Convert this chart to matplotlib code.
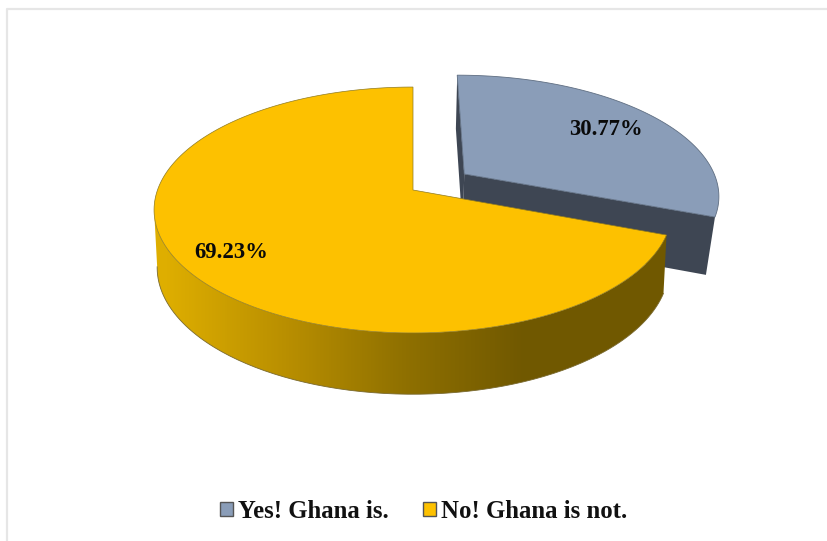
import numpy as np
import matplotlib
matplotlib.use("Agg")
import matplotlib.pyplot as plt
from matplotlib.colors import LinearSegmentedColormap
from matplotlib.patches import Patch, Polygon

categories = ["Yes! Ghana is.", "No! Ghana is not."]
shares = [30.77, 69.23]

BLUE, BLUE_DARK = "#8A9DB8", "#3E4653"
YELLOW = "#FDC100"
WALL_COLORS = ["#DEAE00", "#B98F00", "#8F7000", "#705800"]

# simple perspective projection of the unit disc onto the page, in pixels
CX, CY = 413, 190
RX, RY, TILT = 255.5, 119.7, 0.1626
BASE_Y, BASE_SY = 247, 1.03


def project(u, v, base_sx=None):
    d = 1 + TILT * v
    if base_sx is not None:
        return CX + base_sx * RX * u / d, BASE_Y - BASE_SY * RY * v / d
    return CX + RX * u / d, CY - RY * v / d


def arc(start, stop, du=0.0, dv=0.0, base_sx=None):
    t = np.radians(np.linspace(start, stop, 200))
    x, y = project(np.sin(t) + du, np.cos(t) + dv, base_sx)
    return np.column_stack([x, y])


fig = plt.figure(figsize=(8.28, 5.41), dpi=100)
ax = fig.add_axes([0, 0, 1, 1])

# chart area border, only its top and left sides show
ax.plot([7, 7, 828], [541, 8.5, 8.5], color="#E6E6E6", lw=1.6, zorder=0)

split = shares[0] / sum(shares) * 360
du, dv = 0.205, 0.1366
side_sx, main_sx = 0.97, 0.988

# exploded slice: side faces first, then the top
apex_top = np.array(project(du, dv))[None, :]
apex_low = np.array(project(du, dv, side_sx))[None, :]
top_arc = arc(0, split, du, dv)
low_arc = arc(0, split, du, dv, side_sx)
ax.add_patch(Polygon(np.vstack([top_arc[0], apex_top, apex_low, low_arc[0]]), fc=BLUE_DARK, ec="none"))
ax.add_patch(Polygon(np.vstack([apex_top, top_arc[-1], low_arc[-1], apex_low]), fc=BLUE_DARK, ec="none"))
ax.add_patch(Polygon(np.vstack([apex_top, top_arc]), fc=BLUE, ec="#5F6E82", lw=0.6))

# main slice: shaded rim, then the top
rim_end = 261
wall_patch = Polygon(np.vstack([arc(split, rim_end), arc(split, rim_end, base_sx=main_sx)[::-1]]),
                     fc="none", ec="none")
ax.add_patch(wall_patch)
cmap = LinearSegmentedColormap.from_list("wall", WALL_COLORS)
ramp = np.clip((np.arange(828) - 165) / 360, 0, 1)
img = ax.imshow(ramp[None, :], cmap=cmap, aspect="auto", extent=(0, 828, 541, 0), zorder=1)
img.set_clip_path(wall_patch)

low_edge = arc(split, rim_end, base_sx=main_sx)
ax.plot(low_edge[:, 0], low_edge[:, 1], color="#7A6A30", lw=0.6, zorder=2)
centre = np.array(project(0, 0))[None, :]
ax.add_patch(Polygon(np.vstack([centre, arc(split, 360)]), fc=YELLOW, ec="#8F7A20", lw=0.5, zorder=3))

ax.set_xlim(0, 828)
ax.set_ylim(541, 0)
ax.axis("off")

text_style = dict(family="Liberation Serif", weight="bold", color="#0A0A0A", zorder=4)
ax.text(606, 129.5, f"{shares[0]:.2f}%", ha="center", va="center", fontsize=16.4, **text_style)
ax.text(231, 252.5, f"{shares[1]:.2f}%", ha="center", va="center", fontsize=16.4, **text_style)

handles = [Patch(fc=BLUE, ec="#555555", lw=1), Patch(fc=YELLOW, ec="#555555", lw=1)]
ax.legend(handles, categories, loc="center", bbox_to_anchor=(423.5 / 828, 1 - 511 / 541),
          ncol=2, frameon=False, handlelength=0.52, handleheight=0.52, handletextpad=0.2,
          columnspacing=1.38, prop={"family": "Liberation Serif", "weight": "bold", "size": 17.8},
          labelcolor="#111111")

fig.savefig("out.png", dpi=100)
plt.close(fig)
